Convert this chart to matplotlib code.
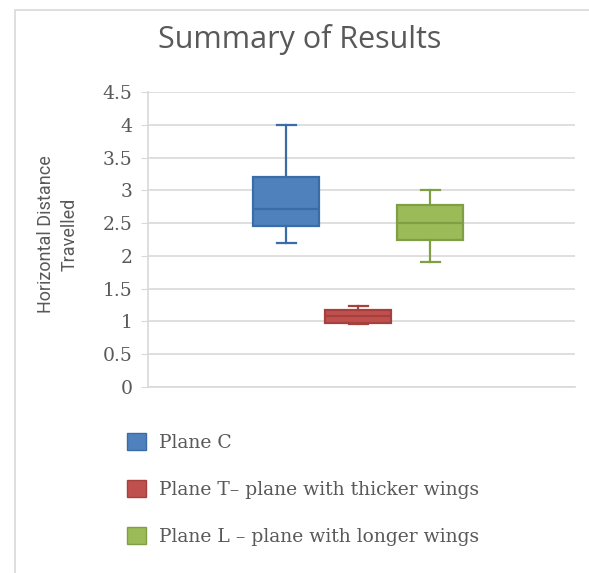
import matplotlib
matplotlib.use("Agg")
import matplotlib.pyplot as plt
from matplotlib.patches import Patch, Rectangle

# Box plot summary values per plane (horizontal distance travelled)
planes = ["Plane C", "Plane T\u2013 plane with thicker wings", "Plane L \u2013 plane with longer wings"]
whisker_low = [2.2, 0.955, 1.9]
box_q1 = [2.45, 0.97, 2.25]
box_median = [2.72, 1.09, 2.5]
box_q3 = [3.2, 1.17, 2.77]
whisker_high = [4.0, 1.24, 3.0]

face_colors = ["#4F81BD", "#C0504D", "#9BBB59"]
edge_colors = ["#3B6CA5", "#A5403D", "#7F9E45"]

yticks = [0, 0.5, 1, 1.5, 2, 2.5, 3, 3.5, 4, 4.5]

W, H = 589, 573
fig = plt.figure(figsize=(W / 100, H / 100), dpi=100)

# thin chart border
fig.patches.append(Rectangle((15 / W, -0.01), 1.0, 1 - 10 / H + 0.01, transform=fig.transFigure,
                             fill=False, edgecolor="#D9D9D9", linewidth=1.2))

ax = fig.add_axes([148 / W, 1 - 387 / H, (575 - 148) / W, (387 - 92) / H])

stats = []
for i in range(len(planes)):
    stats.append({"whislo": whisker_low[i], "q1": box_q1[i], "med": box_median[i],
                  "q3": box_q3[i], "whishi": whisker_high[i], "fliers": []})

positions = [-1, 0, 1]
for i, st in enumerate(stats):
    ax.bxp([st], positions=[positions[i]], widths=0.92, patch_artist=True, showfliers=False,
           boxprops=dict(facecolor=face_colors[i], edgecolor=edge_colors[i], linewidth=1.6),
           medianprops=dict(color=edge_colors[i], linewidth=1.6),
           whiskerprops=dict(color=edge_colors[i], linewidth=1.6),
           capprops=dict(color=edge_colors[i], linewidth=1.6),
           capwidths=0.27, zorder=3)

ax.set_xlim(-2.92, 3.01)
ax.set_ylim(0, 4.5)
ax.set_yticks(yticks)
ax.set_yticklabels([f"{t:g}" for t in yticks], family="DejaVu Serif", fontsize=13.5, color="#595959")
ax.set_xticks([])
ax.yaxis.grid(True, color="#D9D9D9", linewidth=1.2, zorder=0)
ax.set_axisbelow(True)
for side in ["top", "right"]:
    ax.spines[side].set_visible(False)
ax.spines["left"].set_color("#D9D9D9")
ax.spines["bottom"].set_color("#D9D9D9")
ax.spines["left"].set_linewidth(1.2)
ax.spines["bottom"].set_linewidth(1.2)
ax.tick_params(axis="y", length=5, color="#D9D9D9", pad=6)

fig.text(58 / W, 1 - 234 / H, "Horizontal Distance\nTravelled", family="Roboto", fontsize=13,
         color="#595959", rotation=90, ha="center", va="center", linespacing=1.4,
         multialignment="center")

fig.text(300 / W, 1 - 48 / H, "Summary of Results", family="Open Sans", fontsize=22,
         color="#595959", ha="center", va="baseline")

handles = [Patch(facecolor=face_colors[i], edgecolor=edge_colors[i]) for i in range(len(planes))]
fig.legend(handles, planes, loc="upper left", bbox_to_anchor=(110 / W, 1 - 416 / H), frameon=False,
           prop={"family": "DejaVu Serif", "size": 13.5}, labelcolor="#595959",
           handlelength=1.0, handleheight=1.0, labelspacing=1.5, handletextpad=0.7)

fig.savefig("out.png", dpi=100)
